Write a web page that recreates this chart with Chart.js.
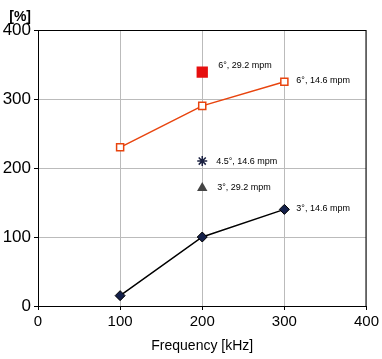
<!DOCTYPE html>
<html>
<head>
<meta charset="utf-8">
<script src="https://cdn.jsdelivr.net/npm/chart.js@4"></script>
<style>
  html, body { margin: 0; padding: 0; background: #fff; }
  #wrap { width: 382px; height: 359px; position: relative; }
</style>
</head>
<body>
<div id="wrap"><canvas id="chart" width="382" height="359"></canvas></div>
<script>
// ── DATA ──
const freqs = [100, 200, 300];
const deg6slow = [230, 290, 325];   // 6°, 14.6 mpm
const deg3slow = [15, 100, 140];    // 3°, 14.6 mpm
const deg6fast = [{ x: 200, y: 339 }];  // 6°, 29.2 mpm
const deg45slow = [{ x: 200, y: 210 }]; // 4.5°, 14.6 mpm
const deg3fast = [{ x: 200, y: 171 }];  // 3°, 29.2 mpm
const xTicks = [0, 100, 200, 300, 400];
const yTicks = [0, 100, 200, 300, 400];

const toPts = (xs, ys) => xs.map((x, i) => ({ x, y: ys[i] }));

// labels drawn next to the last point of each series
const seriesLabels = ['6°, 14.6 mpm', '3°, 14.6 mpm', '6°, 29.2 mpm', '4.5°, 14.6 mpm', '3°, 29.2 mpm'];

const labelPlugin = {
  id: 'pointLabels',
  afterDatasetsDraw(chart) {
    const c = chart.ctx;
    c.save();
    c.font = '9px "Liberation Sans", Arial, sans-serif';
    c.fillStyle = '#000';
    c.textBaseline = 'middle';
    const offs = [[12, -1], [12, -1], [16, -7], [14, 0], [15, 0]];
    chart.data.datasets.forEach((ds, i) => {
      const meta = chart.getDatasetMeta(i);
      const pt = meta.data[meta.data.length - 1];
      c.fillText(seriesLabels[i], pt.x + offs[i][0], pt.y + offs[i][1]);
    });
    // "[%]" unit above the y axis
    c.font = 'bold 14px "Liberation Sans", Arial, sans-serif';
    c.textAlign = 'right';
    c.fillText('[%]', 31, 17);
    c.restore();
  }
};

const tickFont = { family: '"Liberation Sans", Arial, sans-serif', size: 15 };

new Chart(document.getElementById('chart'), {
  type: 'scatter',
  data: {
    datasets: [
      {
        data: toPts(freqs, deg6slow), showLine: true,
        borderColor: '#e8440e', borderWidth: 1.5,
        pointStyle: 'rect', pointRadius: 5, pointBorderWidth: 1.5,
        pointBackgroundColor: '#fff', pointBorderColor: '#e8440e'
      },
      {
        data: toPts(freqs, deg3slow), showLine: true,
        borderColor: '#000', borderWidth: 1.5,
        pointStyle: 'rectRot', pointRadius: 5, pointBorderWidth: 1,
        pointBackgroundColor: '#14204a', pointBorderColor: '#000'
      },
      {
        data: deg6fast,
        pointStyle: 'rect', pointRadius: 8,
        pointBackgroundColor: '#e60f0f', pointBorderColor: '#e60f0f', pointBorderWidth: 0
      },
      {
        data: deg45slow,
        pointStyle: 'star', pointRadius: 5, pointBorderWidth: 1.5,
        pointBorderColor: '#1a2040', pointBackgroundColor: '#1a2040'
      },
      {
        data: deg3fast,
        pointStyle: 'triangle', pointRadius: 6, pointBorderWidth: 0,
        pointBackgroundColor: '#444', pointBorderColor: '#444'
      }
    ]
  },
  options: {
    responsive: false, animation: false,
    layout: { padding: { top: 30, right: 15, left: 0, bottom: 0 } },
    plugins: { legend: { display: false }, tooltip: { enabled: false } },
    scales: {
      x: {
        type: 'linear', min: 0, max: 400,
        afterBuildTicks: s => { s.ticks = xTicks.map(v => ({ value: v })); },
        afterFit: s => { s.height = 53; },
        grid: { color: '#bbb', lineWidth: 1, tickLength: 4, tickColor: '#000' },
        border: { color: '#000', width: 1 },
        ticks: { color: '#000', font: tickFont, padding: 3, maxRotation: 0 },
        title: { display: true, text: 'Frequency [kHz]', color: '#000',
                 font: { family: '"Liberation Sans", Arial, sans-serif', size: 14 }, padding: { top: 2 } }
      },
      y: {
        min: 0, max: 400,
        afterBuildTicks: s => { s.ticks = yTicks.map(v => ({ value: v })); },
        afterFit: s => { s.width = 38; },
        grid: { color: '#bbb', lineWidth: 1, tickLength: 4, tickColor: '#000' },
        border: { color: '#000', width: 1 },
        ticks: { color: '#000', font: { family: '"Liberation Sans", Arial, sans-serif', size: 17 }, padding: 3 }
      }
    }
  },
  plugins: [labelPlugin, {
    id: 'frame',
    afterDraw(chart) {
      const a = chart.chartArea, c = chart.ctx;
      c.save();
      c.strokeStyle = '#000'; c.lineWidth = 1;
      c.strokeRect(a.left + 0.5, a.top + 0.5, a.width - 1, a.height);
      c.restore();
    }
  }]
});
</script>
</body>
</html>
